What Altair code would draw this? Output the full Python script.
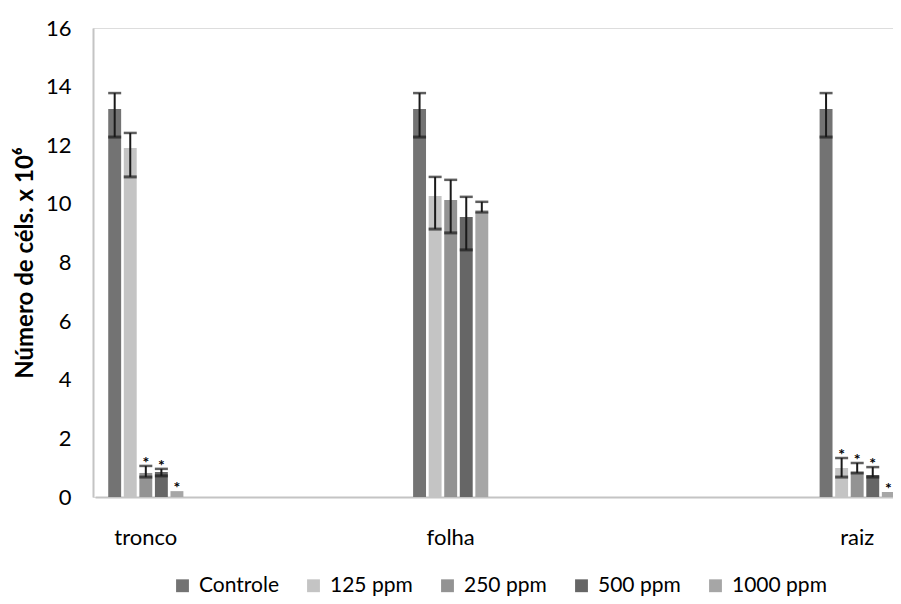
import altair as alt
import pandas as pd

groups = ["tronco", "folha", "raiz"]
series = ["Controle", "125 ppm", "250 ppm", "500 ppm", "1000 ppm"]
colors = ["#737373", "#c4c4c4", "#939393", "#666666", "#a6a6a6"]

# slots of the category axis (spacers keep the original uneven spacing)
x_slots = ["tronco", "s1", "s2", "folha", "s3", "s4", "s5", "raiz"]

tronco_vals = [13.24, 11.91, 0.82, 0.85, 0.20]
folha_vals = [13.24, 10.27, 10.13, 9.55, 9.72]
raiz_vals = [13.24, 0.99, 0.85, 0.75, 0.17]

tronco_hi = [13.78, 12.42, 1.06, 0.96, None]
tronco_lo = [12.28, 10.92, 0.68, 0.72, None]
folha_hi = [13.78, 10.92, 10.82, 10.24, 10.07]
folha_lo = [12.28, 9.14, 9.01, 8.43, 9.72]
raiz_hi = [13.78, 1.33, 1.16, 1.02, None]
raiz_lo = [12.28, 0.68, 0.82, 0.68, None]

tronco_sig = [False, False, True, True, True]
folha_sig = [False, False, False, False, False]
raiz_sig = [False, True, True, True, True]

rows = []
for g, vals, his, los, sigs in [
    ("tronco", tronco_vals, tronco_hi, tronco_lo, tronco_sig),
    ("folha", folha_vals, folha_hi, folha_lo, folha_sig),
    ("raiz", raiz_vals, raiz_hi, raiz_lo, raiz_sig),
]:
    for s, v, h, l, sg in zip(series, vals, his, los, sigs):
        top = h if h is not None else v
        rows.append({"grupo": g, "serie": s, "valor": v, "hi": h, "lo": l,
                     "top": top, "sig": "*" if sg else ""})
df = pd.DataFrame(rows)

FONT = "Lato"

x_enc = alt.X("grupo:N", scale=alt.Scale(domain=x_slots, range=[2, 815],
                                          paddingInner=0, paddingOuter=0),
              axis=alt.Axis(values=groups, title=None, ticks=False,
                            labelPadding=30, labelFontSize=22, labelFont=FONT,
                            labelColor="#000000", domainColor="#c4c4c4",
                            domainWidth=2, labelAngle=0))
xo_enc = alt.XOffset("serie:N", scale=alt.Scale(domain=series, paddingInner=0.17,
                                                 paddingOuter=0.85))

base = alt.Chart(df)

bars = base.mark_bar().encode(
    x=x_enc,
    xOffset=xo_enc,
    y=alt.Y("valor:Q", scale=alt.Scale(domain=[0, 16]),
            axis=alt.Axis(values=list(range(0, 17, 2)), title="Número de céls. x 10⁶",
                          grid=False, ticks=False, labelPadding=22,
                          labelFontSize=22, labelFont=FONT, labelColor="#000000",
                          domainColor="#c4c4c4", domainWidth=2,
                          titleFont=FONT, titleFontSize=24, titleFontWeight="bold",
                          titleColor="#000000", titlePadding=8)),
    color=alt.Color("serie:N", scale=alt.Scale(domain=series, range=colors),
                    legend=alt.Legend(title=None, orient="none", direction="horizontal",
                                      columns=5, legendX=79, legendY=547,
                                      symbolType="square", symbolSize=165,
                                      symbolStrokeWidth=0, labelFontSize=21,
                                      labelFont=FONT, labelColor="#000000",
                                      labelOffset=6, columnPadding=24, padding=0)),
)

err = base.transform_filter("isValid(datum.hi)")

rules = err.mark_rule(color="#1a1a1a", strokeWidth=2).encode(
    x=alt.X("grupo:N"), xOffset=alt.XOffset("serie:N"),
    y="lo:Q", y2="hi:Q")
cap_hi = err.mark_tick(color="#1a1a1a", thickness=2.5, size=13).encode(
    x=alt.X("grupo:N"), xOffset=alt.XOffset("serie:N"), y="hi:Q")
cap_lo = err.mark_tick(color="#1a1a1a", thickness=3, size=13).encode(
    x=alt.X("grupo:N"), xOffset=alt.XOffset("serie:N"), y="lo:Q")

stars = base.transform_filter("datum.sig != ''").mark_text(
    fontSize=16, font=FONT, fontWeight="bold", color="#000000",
    baseline="alphabetic", dy=2).encode(
    x=alt.X("grupo:N"), xOffset=alt.XOffset("serie:N"), y="top:Q", text="sig:N")

chart = alt.layer(bars, rules, cap_hi, cap_lo, stars).properties(
    width=800, height=469,
    autosize=alt.AutoSizeParams(type="none"),
    padding={"left": 85, "top": 20, "right": 0, "bottom": 99},
).configure_view(stroke=None).configure(background="#ffffff")

chart.save("out.html", embed_options={"renderer": "svg", "actions": False})
